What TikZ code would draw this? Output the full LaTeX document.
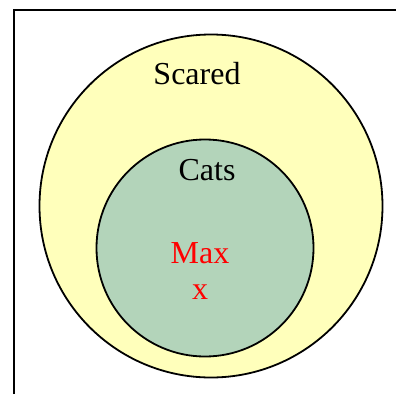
\documentclass[tikz,border=0pt]{standalone}
\usepackage{fontspec}
\setmainfont{Liberation Serif}
\usepackage{xcolor}
\usepackage{tikz}
\usetikzlibrary{positioning}
\definecolor{scaredfill}{RGB}{255, 255, 187}
\definecolor{catsfill}{RGB}{179, 212, 186}

\begin{document}
\begin{tikzpicture}[x=1pt, y=-1pt,
  setcircle/.style={circle, draw=black, line width=1.8pt, inner sep=0pt},
  setlabel/.style={font=\fontsize{32}{36}\selectfont, inner sep=0pt}]

\useasboundingbox (0,0) rectangle (396,394);

% Frame (only left and top edges visible)
\coordinate (framebl) at (14,394);
\coordinate (frametl) at (14,10);
\coordinate (frametr) at (396,10);
\draw[black, line width=2pt] (framebl) -- (frametl) -- (frametr);

% Sets
\node[setcircle, fill=scaredfill, minimum size=343] (scared) at (211,206) {};
\node[setcircle, fill=catsfill,   minimum size=217] (cats)   at (205,248) {};

% Labels
\node[setlabel] (scaredlabel) at (197,74)  {Scared};
\node[setlabel] (catslabel)   at (207,170) {Cats};
\node[setlabel, text=red] (max)  at (200,253) {Max};
\node[setlabel, text=red] (maxx) at (200,292) {x};

\end{tikzpicture}
\end{document}
